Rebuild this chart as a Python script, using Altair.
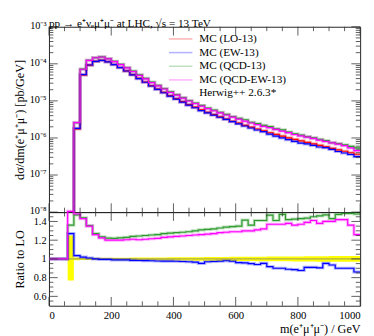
import altair as alt
import pandas as pd

SERIF = "Liberation Serif"

# 20 GeV bins from 0 to 1000 GeV
bin_starts = list(range(0, 1000, 20))
edges = bin_starts + [1000]

# LO cross section per bin [pb/GeV] (0 = empty bin)
lo_xsec = [0, 0, 0, 6.0e-9, 1.75e-6, 5.0e-5, 9.2e-5, 1.16e-4, 1.245e-4, 1.135e-4,
           9.6e-5, 7.94e-5, 6.46e-5, 5.13e-5, 4.07e-5, 3.24e-5, 2.57e-5, 2.09e-5, 1.70e-5, 1.38e-5,
           1.15e-5, 9.55e-6, 7.94e-6, 6.76e-6, 5.75e-6, 4.90e-6, 4.27e-6, 3.72e-6, 3.24e-6, 2.82e-6,
           2.51e-6, 2.19e-6, 1.95e-6, 1.74e-6, 1.55e-6, 1.38e-6, 1.245e-6, 1.12e-6, 1.01e-6, 9.12e-7,
           8.32e-7, 7.59e-7, 6.92e-7, 6.31e-7, 5.75e-7, 5.25e-7, 4.79e-7, 4.37e-7, 3.98e-7, 3.63e-7]

# ratios to LO per bin
ew_ratio = [1.0, 1.0, 1.0, 1.27, 1.035, 1.02, 1.01, 1.0, 0.995, 0.995,
            0.99, 0.99, 0.99, 0.985, 0.983, 0.982, 0.98, 0.978, 0.977, 0.976,
            0.975, 0.972, 0.97, 0.965, 0.952, 0.97, 0.972, 0.975, 0.98, 0.975,
            0.96, 0.958, 0.95, 0.94, 0.952, 0.917, 0.90, 0.90, 0.89, 0.885,
            0.876, 0.91, 0.91, 0.905, 0.952, 0.935, 0.90, 0.90, 0.90, 0.86]
qcd_ratio = [1.0, 1.0, 1.0, 1.36, 1.47, 1.44, 1.355, 1.27, 1.235, 1.222,
             1.22, 1.225, 1.23, 1.24, 1.245, 1.25, 1.255, 1.26, 1.27, 1.275,
             1.28, 1.285, 1.29, 1.30, 1.31, 1.315, 1.32, 1.33, 1.34, 1.345,
             1.35, 1.415, 1.36, 1.41, 1.41, 1.468, 1.41, 1.475, 1.42, 1.425,
             1.43, 1.435, 1.45, 1.46, 1.47, 1.43, 1.475, 1.485, 1.485, 1.48]
qcdew_ratio = [1.0, 1.0, 1.0, 1.75, 1.48, 1.43, 1.35, 1.26, 1.225, 1.20,
               1.20, 1.20, 1.205, 1.21, 1.205, 1.21, 1.215, 1.22, 1.23, 1.235,
               1.24, 1.245, 1.25, 1.255, 1.26, 1.265, 1.27, 1.28, 1.285, 1.29,
               1.29, 1.30, 1.30, 1.31, 1.32, 1.37, 1.37, 1.37, 1.38, 1.36,
               1.37, 1.39, 1.41, 1.38, 1.40, 1.40, 1.42, 1.42, 1.36, 1.26]

# LO uncertainty band (bins from 60 GeV)
band_lo = [0.77, 0.986, 0.988, 0.988, 0.988, 0.988, 0.988, 0.987, 0.987, 0.987,
           0.986, 0.986, 0.985, 0.985, 0.984, 0.984, 0.983, 0.983, 0.982, 0.982,
           0.981, 0.981, 0.980, 0.980, 0.979, 0.979, 0.978, 0.978, 0.977, 0.977,
           0.976, 0.976, 0.975, 0.975, 0.974, 0.974, 0.973, 0.973, 0.972, 0.972,
           0.971, 0.971, 0.970, 0.970, 0.970, 0.969, 0.969]
band_hi = [1.25, 1.014, 1.012, 1.012, 1.012, 1.012, 1.012, 1.013, 1.013, 1.013,
           1.014, 1.014, 1.015, 1.015, 1.016, 1.016, 1.017, 1.017, 1.018, 1.018,
           1.019, 1.019, 1.020, 1.020, 1.021, 1.021, 1.022, 1.022, 1.023, 1.023,
           1.024, 1.024, 1.025, 1.025, 1.026, 1.026, 1.027, 1.027, 1.028, 1.028,
           1.029, 1.029, 1.030, 1.030, 1.030, 1.031, 1.031]

series_names = ["MC (LO-13)", "MC (EW-13)", "MC (QCD-13)", "MC (QCD-EW-13)"]
extra_label = "Herwig++ 2.6.3*"
series_colors = ["#ff0000", "#0000ff", "#2e9a2e", "#ff00ff"]

x_major = [0, 200, 400, 600, 800, 1000]
x_minor = [v for v in range(50, 1000, 50) if v % 200 != 0]
y_major = [1e-8, 1e-7, 1e-6, 1e-5, 1e-4, 1e-3]
y_minor = [k * 10.0 ** d for d in range(-8, -3) for k in range(2, 10)]
r_major = [0.6, 0.8, 1.0, 1.2, 1.4]
r_minor = [0.55, 0.65, 0.7, 0.75, 0.85, 0.9, 0.95, 1.05, 1.1, 1.15, 1.25, 1.3, 1.35, 1.45]

W, H1, H2 = 319, 190, 96
Y_MIN, Y_MAX = 1e-8, 1e-3
R_MIN, R_MAX = 0.5, 1.5

# ---- tables (values beyond the frame are pinned just outside it; they are clipped anyway)
ratios = [[1.0] * len(bin_starts), ew_ratio, qcd_ratio, qcdew_ratio]
main_rows, ratio_rows = [], []
for k, name in enumerate(series_names):
    for i, e in enumerate(edges):
        j = min(i, len(bin_starts) - 1)
        main_rows.append({"x": e, "v": max(lo_xsec[j] * ratios[k][j], Y_MIN * 0.6), "series": name})
        if k > 0:
            ratio_rows.append({"x": e, "r": min(ratios[k][j], R_MAX + 0.02), "series": name})
df_main = pd.DataFrame(main_rows)
df_ratio = pd.DataFrame(ratio_rows)
band_edges = bin_starts[3:] + [1000]
df_band = pd.DataFrame({"x": band_edges, "lo": band_lo + [band_lo[-1]], "hi": band_hi + [band_hi[-1]]})
df_one = pd.DataFrame({"x": [60, 1000], "r": [1.0, 1.0]})

xsc = alt.Scale(domain=[0, 1000], nice=False, zero=False)
ysc = alt.Scale(type="log", domain=[Y_MIN, Y_MAX], nice=False)
rsc = alt.Scale(domain=[R_MIN, R_MAX], nice=False, zero=False)
csc = alt.Scale(domain=series_names + [extra_label], range=series_colors + ["rgba(255,255,255,0)"])
csc_r = alt.Scale(domain=series_names[1:], range=series_colors[1:])

sup = "['⁰','¹','²','³','⁴','⁵','⁶','⁷','⁸','⁹']"
AX_MY = alt.Axis(values=y_major, labelExpr="'10⁻' + " + sup + "[round(-log(datum.value)/LN10)]",
                 title="dσ/dm(e⁺μ⁺μ⁻)  [pb/GeV]", titleX=-23, labelPadding=3,
                 labelFontSize=10.5, labelOffset=-1.5)
AX_RX = alt.Axis(values=x_major, format="d", title="m(e⁺μ⁺μ⁻) / GeV",
                 titleAnchor="end", labelPadding=4, titlePadding=2)
AX_RY = alt.Axis(values=r_major, labelExpr="format(datum.value, '~g')",
                 title="Ratio to LO", titleX=-23, labelPadding=3, labelFontSize=10.5)
LEG = alt.Legend(
    title=None, orient="none", legendX=128, legendY=5.5, symbolType="M-2,0L2,0",
    symbolSize=144, symbolStrokeWidth=1.5, labelFont=SERIF, labelFontSize=11.5,
    labelOffset=12, rowPadding=1, padding=0, labelLimit=200, labelColor="black")

TICK = "#333333"


def xticks(vals, length, H, ax_x):
    d = pd.DataFrame({"t": vals})
    b = alt.Chart(d).mark_rule(color=TICK, strokeWidth=0.8)
    return [
        b.encode(x=alt.X("t:Q", scale=xsc, axis=ax_x), y=alt.value(H), y2=alt.value(H - length)),
        b.encode(x=alt.X("t:Q", scale=xsc, axis=ax_x), y=alt.value(0), y2=alt.value(length)),
    ]


def yticks(vals, length, sc, ax_y):
    d = pd.DataFrame({"t": vals})
    b = alt.Chart(d).mark_rule(color=TICK, strokeWidth=0.8)
    return [
        b.encode(y=alt.Y("t:Q", scale=sc, axis=ax_y), x=alt.value(0), x2=alt.value(length)),
        b.encode(y=alt.Y("t:Q", scale=sc, axis=ax_y), x=alt.value(W), x2=alt.value(W - length)),
    ]


halo_main = alt.Chart(df_main).mark_line(interpolate="step-after", clip=True, strokeWidth=3.2, opacity=0.3).encode(
    x=alt.X("x:Q", scale=xsc, axis=None),
    y=alt.Y("v:Q", scale=ysc, axis=AX_MY),
    color=alt.Color("series:N", scale=csc, legend=LEG),
)
line_main = alt.Chart(df_main).mark_line(interpolate="step-after", clip=True, strokeWidth=1.2).encode(
    x=alt.X("x:Q", scale=xsc, axis=None),
    y=alt.Y("v:Q", scale=ysc, axis=AX_MY),
    color=alt.Color("series:N", scale=csc, legend=LEG),
)
main = alt.layer(
    halo_main, line_main,
    *xticks(x_major, 9, H1, None), *xticks(x_minor, 4.5, H1, None),
    *yticks(y_major, 9, ysc, AX_MY), *yticks(y_minor, 4.5, ysc, AX_MY),
).properties(
    width=W, height=H1,
    title=alt.TitleParams("pp → e⁺νₑμ⁺μ⁻ at LHC, √s = 13 TeV", anchor="start", frame="group",
                          font=SERIF, fontSize=11.5, fontWeight="normal", offset=-9, color="black"),
)

band = alt.Chart(df_band).mark_area(interpolate="step-after", color="#ffff00", clip=True).encode(
    x=alt.X("x:Q", scale=xsc, axis=AX_RX),
    y=alt.Y("lo:Q", scale=rsc, axis=AX_RY),
    y2="hi:Q",
)
one_line = alt.Chart(df_one).mark_line(color="#9a9660", strokeWidth=1, clip=True).encode(
    x=alt.X("x:Q", scale=xsc, axis=AX_RX), y=alt.Y("r:Q", scale=rsc, axis=AX_RY))
halo_r = alt.Chart(df_ratio).mark_line(interpolate="step-after", clip=True, strokeWidth=3.2, opacity=0.3).encode(
    x=alt.X("x:Q", scale=xsc, axis=AX_RX), y=alt.Y("r:Q", scale=rsc, axis=AX_RY),
    color=alt.Color("series:N", scale=csc_r, legend=None))
line_r = alt.Chart(df_ratio).mark_line(interpolate="step-after", clip=True, strokeWidth=1.2).encode(
    x=alt.X("x:Q", scale=xsc, axis=AX_RX), y=alt.Y("r:Q", scale=rsc, axis=AX_RY),
    color=alt.Color("series:N", scale=csc_r, legend=None))
ratio = alt.layer(
    band, one_line, halo_r, line_r,
    *xticks(x_major, 9, H2, AX_RX), *xticks(x_minor, 4.5, H2, AX_RX),
    *yticks(r_major, 9, rsc, AX_RY), *yticks(r_minor, 4.5, rsc, AX_RY),
).properties(width=W, height=H2)

chart = alt.vconcat(main, ratio, spacing=0, bounds="flush").resolve_scale(color="independent").properties(
    background="white"
).configure_view(
    stroke="#222222", strokeWidth=1
).configure_axis(
    labelFont=SERIF, titleFont=SERIF, labelFontSize=11, titleFontSize=12.5,
    labelColor="black", titleColor="black", titleFontWeight="normal",
    domain=False, ticks=False, tickSize=0, grid=False,
)

chart.save("out.html", embed_options={"renderer": "svg", "actions": False})
